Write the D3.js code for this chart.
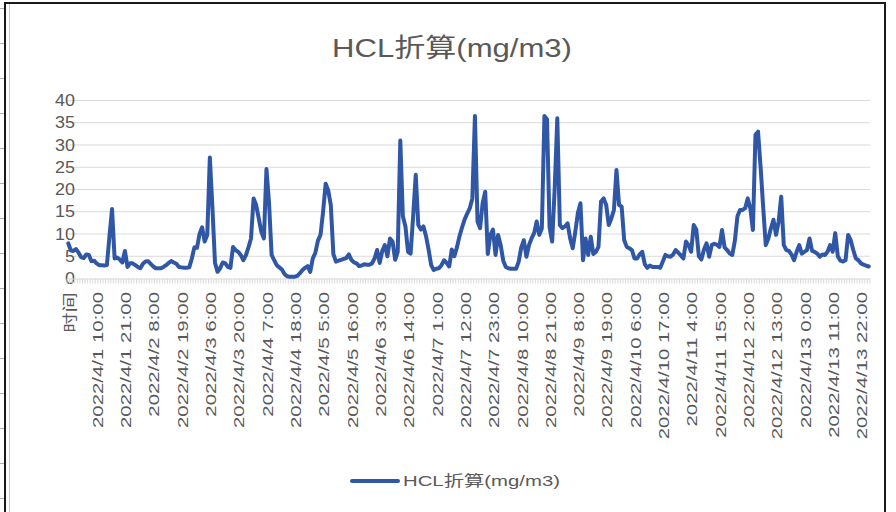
<!DOCTYPE html>
<html>
<head>
<meta charset="utf-8">
<script src="https://cdn.jsdelivr.net/npm/d3@7"></script>
<style>
  html, body { margin: 0; padding: 0; background: #fff; }
  svg { display: block; }
  text { font-family: "Liberation Sans", "Noto Sans CJK SC", sans-serif; fill: #595959; }
</style>
</head>
<body>
<svg id="chart" width="896" height="512"></svg>
<script>
// Series name and axis header
const seriesName = "HCL折算(mg/m3)";
const headerLabel = "时间";

// Hourly readings, first entry sits on the header category
const values = [
  7.9, 6.3, 6.2, 6.6, 5.8, 4.8, 4.6, 5.4, 5.3, 3.9,
  4.0, 3.4, 3.0, 3.0, 2.9, 3.0, 9.5, 15.6, 4.5, 4.7,
  4.3, 3.6, 6.2, 2.6, 3.4, 3.4, 3.0, 2.6, 2.3, 3.3,
  3.8, 3.9, 3.3, 2.7, 2.3, 2.3, 2.3, 2.6, 3.0, 3.5,
  3.9, 3.6, 3.3, 2.6, 2.5, 2.4, 2.4, 2.5, 4.5, 7.0,
  6.9, 10.0, 11.5, 8.3, 9.8, 27.2, 16.0, 3.5, 1.5, 2.3,
  3.6, 3.4, 2.6, 2.4, 7.1, 6.4, 6.0, 5.3, 4.1, 5.2,
  7.0, 9.0, 18.0, 16.5, 13.5, 10.5, 9.0, 24.6, 17.0, 5.3,
  4.1, 3.0, 2.5, 2.0, 1.0, 0.5, 0.4, 0.4, 0.4, 0.6,
  1.2, 1.9, 2.4, 2.8, 1.5, 4.5, 5.8, 8.5, 9.8, 15.0,
  21.3, 19.8, 16.5, 5.5, 3.8, 4.0, 4.2, 4.4, 4.6, 5.4,
  4.2, 3.6, 3.4, 2.8, 2.9, 3.2, 3.1, 3.1, 3.4, 4.5,
  6.4, 3.5, 6.2, 7.5, 5.0, 9.0, 8.3, 4.2, 6.0, 31.0,
  14.0, 11.7, 6.0, 5.6, 14.0, 23.3, 12.0, 11.0, 11.7, 9.5,
  6.5, 3.0, 1.9, 2.2, 2.3, 3.0, 4.1, 3.5, 2.7, 6.5,
  5.0, 7.0, 9.5, 11.5, 13.3, 14.6, 15.8, 18.0, 36.5, 12.8,
  11.3, 17.0, 19.5, 5.5, 9.8, 11.0, 5.3, 9.8, 7.5, 4.0,
  2.6, 2.3, 2.2, 2.2, 2.2, 3.8, 7.0, 8.6, 4.9, 7.5,
  9.0, 10.2, 12.8, 9.8, 11.3, 36.5, 35.8, 11.5, 8.3, 20.3,
  36.0, 12.0, 11.3, 11.7, 12.4, 9.0, 6.8, 10.5, 14.7, 16.9,
  4.1, 9.0, 5.3, 9.4, 5.5, 6.0, 7.1, 17.3, 18.0, 16.5,
  12.0, 13.5, 15.4, 24.4, 16.5, 16.2, 8.6, 7.1, 6.8, 6.4,
  4.5, 4.5, 5.4, 6.0, 3.2, 2.4, 2.9, 2.6, 2.6, 2.6,
  2.4, 3.8, 5.3, 5.0, 4.9, 5.4, 6.4, 5.8, 5.2, 4.5,
  8.3, 7.5, 6.0, 12.0, 11.0, 5.0, 4.3, 6.5, 7.9, 4.9,
  7.5, 7.8, 7.6, 7.1, 10.9, 7.0, 6.4, 5.6, 5.3, 8.5,
  14.0, 15.4, 15.4, 15.8, 18.0, 15.8, 10.9, 32.3, 33.0, 25.0,
  16.0, 7.5, 9.0, 11.3, 13.2, 9.8, 12.8, 18.4, 7.5, 6.4,
  6.2, 5.4, 4.1, 6.0, 7.5, 5.6, 6.0, 6.4, 9.0, 6.2,
  6.0, 5.6, 4.9, 5.4, 5.3, 6.0, 7.5, 6.0, 10.2, 5.0,
  4.0, 3.8, 4.1, 9.8, 8.6, 6.4, 4.5, 4.1, 3.4, 3.1,
  2.9, 2.7
];

// Labels shown along the category axis (every 11th category)
const tickLabels = [
  "时间", "2022/4/1 10:00", "2022/4/1 21:00", "2022/4/2 8:00", "2022/4/2 19:00",
  "2022/4/3 6:00", "2022/4/3 20:00", "2022/4/4 7:00", "2022/4/4 18:00", "2022/4/5 5:00",
  "2022/4/5 16:00", "2022/4/6 3:00", "2022/4/6 14:00", "2022/4/7 1:00", "2022/4/7 12:00",
  "2022/4/7 23:00", "2022/4/8 10:00", "2022/4/8 21:00", "2022/4/9 8:00", "2022/4/9 19:00",
  "2022/4/10 6:00", "2022/4/10 17:00", "2022/4/11 4:00", "2022/4/11 15:00", "2022/4/12 2:00",
  "2022/4/12 13:00", "2022/4/13 0:00", "2022/4/13 11:00", "2022/4/13 22:00"
];

const yTicks = [0, 5, 10, 15, 20, 25, 30, 35, 40];

// Category list: header, then hourly stamps from 2022/4/1 0:00 (hours 10-12 on 4/3 absent)
const skippedHours = ["2022/4/3 10:00", "2022/4/3 11:00", "2022/4/3 12:00"];
const categories = [headerLabel];
{
  let t = new Date(2022, 3, 1, 0);
  while (categories.length < values.length) {
    const s = `${t.getFullYear()}/${t.getMonth() + 1}/${t.getDate()} ${t.getHours()}:00`;
    if (!skippedHours.includes(s)) categories.push(s);
    t = new Date(t.getTime() + 3600 * 1000);
  }
}
const data = categories.map((c, i) => ({ c, v: values[i] }));

const svg = d3.select("#chart");

// Sheet row marks left of the chart object
svg.append("g").selectAll("line").data(d3.range(8, 512, 35)).join("line")
  .attr("x1", 0).attr("x2", 4).attr("y1", d => d + 0.5).attr("y2", d => d + 0.5)
  .attr("stroke", "#b0b0b0");

// Chart object frame: dark outer edge with a light inner edge on the left
svg.append("rect")
  .attr("x", 5).attr("y", 3).attr("width", 880).attr("height", 520)
  .attr("fill", "#fff").attr("stroke", "#1a1a1a").attr("stroke-width", 2);
svg.append("line")
  .attr("x1", 9.5).attr("x2", 9.5).attr("y1", 4).attr("y2", 512)
  .attr("stroke", "#c8c8c8");

const plot = { left: 67, right: 870, top: 100.5, bottom: 278.5 };

const x = d3.scaleBand().domain(categories).range([plot.left, plot.right]);
const y = d3.scaleLinear().domain([0, 40]).range([plot.bottom, plot.top]);
const cx = c => x(c) + x.bandwidth() / 2;

// Text in this chart uses a wide face; stretch along the reading direction
const WIDE = 1.36;

// Horizontal gridlines
svg.append("g").selectAll("line").data(yTicks.filter(d => d > 0)).join("line")
  .attr("x1", plot.left).attr("x2", plot.right)
  .attr("y1", d => y(d)).attr("y2", d => y(d))
  .attr("stroke", "#d9d9d9").attr("stroke-width", 1);

// Value axis labels
svg.append("g").selectAll("text").data(yTicks).join("text")
  .attr("transform", d => `translate(75,${y(d)}) scale(1.12,1)`)
  .attr("dy", "0.35em")
  .attr("text-anchor", "end").attr("font-size", 16)
  .text(d => d);

// Category axis line and tick marks between categories
const xAxis = svg.append("g");
xAxis.append("line")
  .attr("x1", plot.left).attr("x2", plot.right)
  .attr("y1", plot.bottom + 0.5).attr("y2", plot.bottom + 0.5)
  .attr("stroke", "#d9d9d9");
xAxis.selectAll("line.tick").data(categories.concat([null])).join("line")
  .attr("class", "tick")
  .attr("x1", (d, i) => i < categories.length ? x(d) : plot.right)
  .attr("x2", (d, i) => i < categories.length ? x(d) : plot.right)
  .attr("y1", plot.bottom).attr("y2", plot.bottom + 5)
  .attr("stroke", "#d9d9d9");

// Rotated category labels
xAxis.selectAll("text").data(tickLabels).join("text")
  .attr("transform", d => `translate(${cx(d) + 1},292) rotate(-90) scale(${WIDE},1)`)
  .attr("dy", "0.35em")
  .attr("text-anchor", "end").attr("font-size", 15)
  .text(d => d);

// Series line
const line = d3.line().x(d => cx(d.c)).y(d => y(d.v));
svg.append("path").datum(data)
  .attr("d", line)
  .attr("fill", "none").attr("stroke", "#2f57a6")
  .attr("stroke-width", 4).attr("stroke-linejoin", "round").attr("stroke-linecap", "round");

// Title, fitted to its box width
const title = svg.append("text")
  .attr("text-anchor", "middle").attr("font-size", 26)
  .text(seriesName);
{
  const w = title.node().getComputedTextLength();
  title.attr("transform", `translate(452,57) scale(${240 / w},1)`);
}

// Legend
const legend = svg.append("g");
legend.append("line")
  .attr("x1", 352).attr("x2", 398).attr("y1", 481).attr("y2", 481)
  .attr("stroke", "#2f57a6").attr("stroke-width", 4).attr("stroke-linecap", "round");
const legendText = legend.append("text")
  .attr("dy", "0.35em").attr("font-size", 15)
  .text(seriesName);
{
  const w = legendText.node().getComputedTextLength();
  legendText.attr("transform", `translate(403,481) scale(${157 / w},1)`);
}
</script>
</body>
</html>
